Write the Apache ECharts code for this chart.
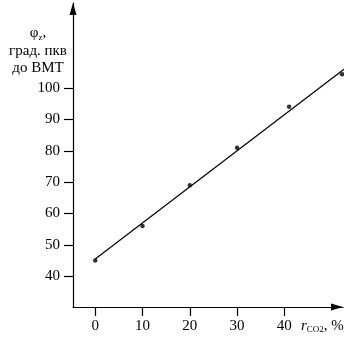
<!DOCTYPE html>
<html>
<head>
<meta charset="utf-8">
<script src="https://cdn.jsdelivr.net/npm/echarts@6/dist/echarts.min.js"></script>
<style>
  html, body { margin: 0; padding: 0; background: #fff; }
  #chart { width: 344px; height: 337px; }
</style>
</head>
<body>
<div id="chart"></div>
<script>
// measured points (r_CO2, %  ->  phi_z, deg before TDC)
const rCO2 = [0, 10, 20, 30, 41, 52.2]
const phiZ = [45, 56, 69, 81, 94, 104.4]

// fitted straight line, two end points
const fitX = [0, 52.6]
const fitY = [45.5, 106]

const xTicks = [0, 10, 20, 30, 40]
const yTicks = [40, 50, 60, 70, 80, 90, 100]

const serif = '"Liberation Serif", "DejaVu Serif", serif'

const chart = echarts.init(document.getElementById('chart'))

const axisCommon = {
  axisLine: {
    show: true,
    onZero: false,
    symbol: ['none', 'triangle'],
    symbolSize: [7, 12],
    symbolOffset: [0, -6],
    lineStyle: { color: '#000', width: 1.2 },
  },
  axisTick: { show: true, inside: false, length: 9, lineStyle: { color: '#000', width: 1.2 } },
  splitLine: { show: false },
}

chart.setOption({
  animation: false,
  grid: { left: 73, right: 1, top: 3, bottom: 30, containLabel: false },
  xAxis: {
    ...axisCommon,
    type: 'value',
    min: -4.7,
    max: 52.4,
    axisTick: { ...axisCommon.axisTick, customValues: xTicks },
    axisLabel: {
      customValues: xTicks,
      margin: 12,
      color: '#000',
      fontFamily: serif,
      fontSize: 15,
    },
  },
  yAxis: {
    ...axisCommon,
    type: 'value',
    min: 30.2,
    max: 127.1,
    axisTick: { ...axisCommon.axisTick, customValues: yTicks },
    axisLabel: {
      customValues: yTicks,
      margin: 13,
      color: '#000',
      fontFamily: serif,
      fontSize: 15,
    },
  },
  graphic: [
    {
      type: 'text',
      x: 38,
      y: 51,
      style: {
        text: '{t|φ}{s|z}{t|,}\n{t|град. пкв}\n{t|до ВМТ}',
        align: 'center',
        verticalAlign: 'middle',
        fill: '#000',
        rich: {
          t: { fontFamily: serif, fontSize: 15, lineHeight: 17.5, fill: '#000' },
          s: { fontFamily: serif, fontSize: 9, lineHeight: 12, verticalAlign: 'bottom', fill: '#000' },
        },
      },
    },
    {
      type: 'text',
      x: 301,
      y: 326,
      style: {
        text: '{i|r}{s|CO2}{t|, %}',
        align: 'left',
        verticalAlign: 'middle',
        rich: {
          i: { fontFamily: serif, fontSize: 15, fontStyle: 'italic', fill: '#000', lineHeight: 16 },
          s: { fontFamily: serif, fontSize: 9, fill: '#000', lineHeight: 10, verticalAlign: 'bottom' },
          t: { fontFamily: serif, fontSize: 15, fill: '#000', lineHeight: 16 },
        },
      },
    },
  ],
  series: [
    {
      type: 'line',
      data: fitX.map((x, i) => [x, fitY[i]]),
      symbol: 'none',
      clip: false,
      lineStyle: { color: '#000', width: 1.2 },
      z: 2,
    },
    {
      type: 'scatter',
      data: rCO2.map((x, i) => [x, phiZ[i]]),
      symbol: 'circle',
      symbolSize: 4.5,
      clip: false,
      itemStyle: { color: '#000' },
      z: 3,
    },
  ],
})
</script>
</body>
</html>
